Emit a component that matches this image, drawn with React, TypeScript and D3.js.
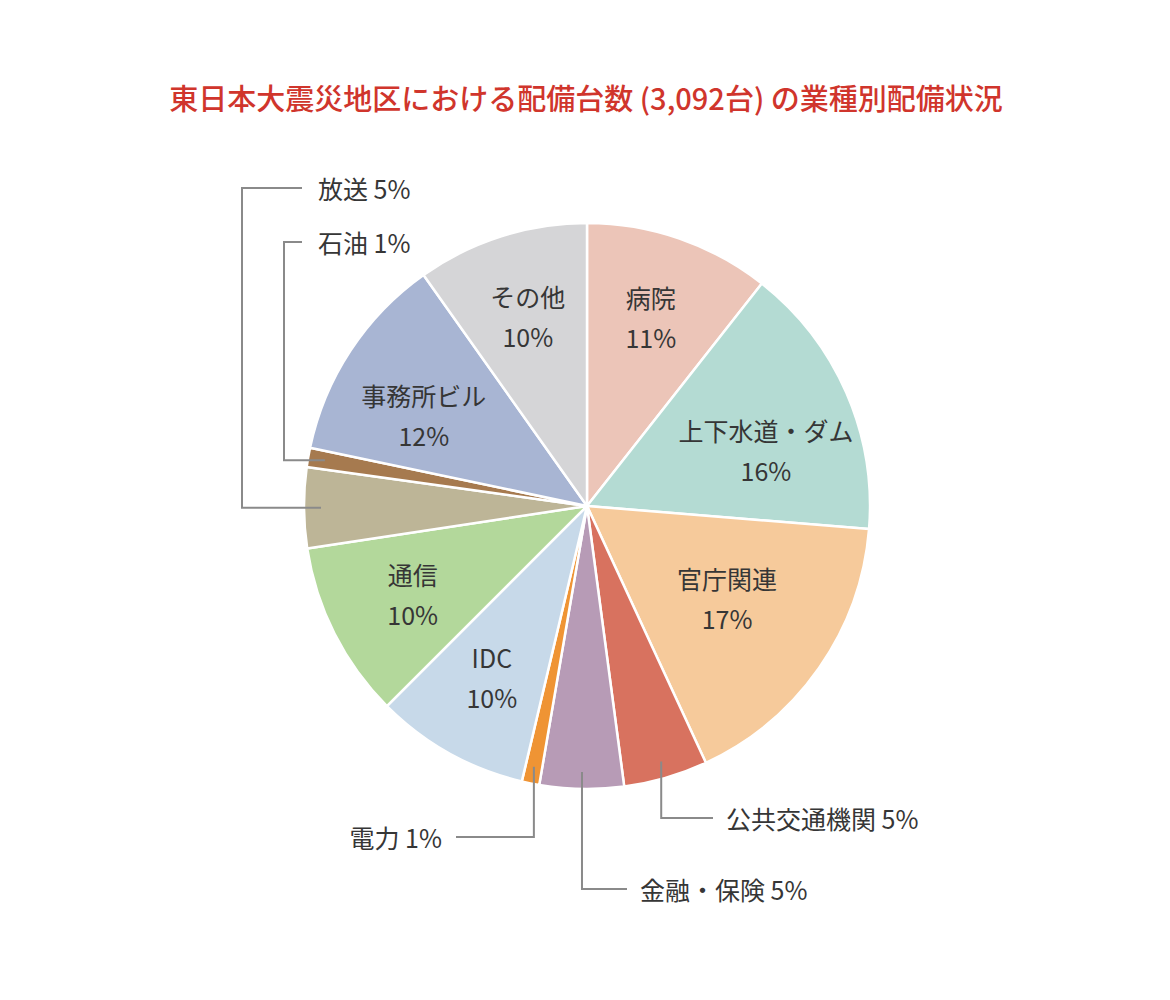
import { useEffect, useRef } from 'react'
import * as d3 from 'd3'

// shares (percent, clockwise from 12 o'clock)
const categories = ['病院', '上下水道・ダム', '官庁関連', '公共交通機関', '金融・保険', '電力', 'IDC', '通信', '放送', '石油', '事務所ビル', 'その他']
const shares = [10.6, 15.7, 16.8, 4.8, 4.8, 1.0, 8.8, 10.1, 4.6, 1.1, 11.9, 9.8]
const shownPct = ['11%', '16%', '17%', '5%', '5%', '1%', '10%', '10%', '5%', '1%', '12%', '10%']
const colors = ['#ecc5b8', '#b4dbd3', '#f6ca9b', '#d8725f', '#b79bb6', '#ef9434', '#c7d9e9', '#b3d89b', '#bdb597', '#a67a4f', '#a8b5d3', '#d5d5d7']

// slices whose label sits outside, with a leader line (label anchor + elbow x)
const outside: Record<string, { lx: number; ly: number; elbow: number; anchor: 'start' | 'end'; vertical: 'up' | 'down' }> = {
    '放送': { lx: 318, ly: 188, elbow: 242, anchor: 'start', vertical: 'up' },
    '石油': { lx: 318, ly: 242, elbow: 284, anchor: 'start', vertical: 'up' },
    '電力': { lx: 442, ly: 837, elbow: 0, anchor: 'end', vertical: 'down' },
    '金融・保険': { lx: 640, ly: 889, elbow: 0, anchor: 'start', vertical: 'down' },
    '公共交通機関': { lx: 726, ly: 818, elbow: 0, anchor: 'start', vertical: 'down' },
}

// small manual nudges of inside labels (like dragged Excel labels)
const labelNudge: Record<string, [number, number]> = {
    '上下水道・ダム': [0, 22],
    '事務所ビル': [0, 16],
    '官庁関連': [-20, -20],
    'その他': [0, -4],
    '病院': [0, -4],
}

const title = '東日本大震災地区における配備台数 (3,092台) の業種別配備状況'

export default function App() {
    const svgRef = useRef<SVGSVGElement>(null)

    useEffect(() => {
        if (!svgRef.current) return
        const svg = d3.select(svgRef.current)
        svg.selectAll('*').remove()

        const width = 1170
        const height = 1000
        const cx = 587
        const cy = 506
        const radius = 283
        const font = '"Noto Sans CJK JP", "Noto Sans", sans-serif'
        const textColor = '#363636'

        svg.attr('width', width).attr('height', height)

        // title
        svg.append('text')
            .attr('x', 586)
            .attr('y', 97)
            .attr('text-anchor', 'middle')
            .attr('dominant-baseline', 'central')
            .style('font-family', font)
            .style('font-size', '29px')
            .style('font-weight', 500)
            .style('fill', '#d0352c')
            .text(title)

        const data = categories.map((c, i) => ({ name: c, value: shares[i], pct: shownPct[i], color: colors[i] }))

        const pie = d3.pie<typeof data[number]>()
            .value(d => d.value)
            .sort(null)

        const arcs = pie(data)
        const arc = d3.arc<d3.PieArcDatum<typeof data[number]>>()
            .innerRadius(0)
            .outerRadius(radius)
        const labelArc = d3.arc<d3.PieArcDatum<typeof data[number]>>()
            .innerRadius(radius * 0.69)
            .outerRadius(radius * 0.69)
        const edgeArc = d3.arc<d3.PieArcDatum<typeof data[number]>>()
            .innerRadius(radius * 0.94)
            .outerRadius(radius * 0.94)

        const g = svg.append('g').attr('transform', `translate(${cx},${cy})`)

        g.selectAll('path.slice')
            .data(arcs)
            .enter()
            .append('path')
            .attr('class', 'slice')
            .attr('d', arc)
            .attr('fill', d => d.data.color)
            .attr('stroke', '#ffffff')
            .attr('stroke-width', 2.5)
            .attr('stroke-linejoin', 'round')

        // inside labels
        const inner = arcs.filter(d => !outside[d.data.name])
        const lab = g.selectAll('g.lab')
            .data(inner)
            .enter()
            .append('g')
            .attr('class', 'lab')
            .attr('transform', d => {
                const [x, y] = labelArc.centroid(d)
                const [nx, ny] = labelNudge[d.data.name] || [0, 0]
                return `translate(${x + nx},${y + ny})`
            })
        lab.append('text')
            .attr('y', -20)
            .attr('text-anchor', 'middle')
            .attr('dominant-baseline', 'central')
            .style('font-family', font)
            .style('font-size', '25px')
            .style('fill', textColor)
            .text(d => d.data.name)
        lab.append('text')
            .attr('y', 20)
            .attr('text-anchor', 'middle')
            .attr('dominant-baseline', 'central')
            .style('font-family', font)
            .style('font-size', '25px')
            .style('fill', textColor)
            .text(d => d.data.pct)

        // outside labels with leader lines
        arcs.filter(d => outside[d.data.name]).forEach(d => {
            const o = outside[d.data.name]
            const [px, py] = edgeArc.centroid(d).map((v, i) => v + (i === 0 ? cx : cy))
            let pts: [number, number][]
            if (o.vertical === 'up') {
                pts = [[px, py], [o.elbow, py], [o.elbow, o.ly], [o.lx - 16, o.ly]]
            } else {
                const ex = o.anchor === 'end' ? o.lx + 14 : o.lx - 13
                pts = [[px, py], [px, o.ly], [ex, o.ly]]
            }
            svg.append('path')
                .attr('d', d3.line()(pts))
                .attr('fill', 'none')
                .attr('stroke', '#8a8a8a')
                .attr('stroke-width', 2)
            svg.append('text')
                .attr('x', o.lx)
                .attr('y', o.ly)
                .attr('text-anchor', o.anchor)
                .attr('dominant-baseline', 'central')
                .style('font-family', font)
                .style('font-size', '25px')
                .style('fill', textColor)
                .text(`${d.data.name} ${d.data.pct}`)
        })
    }, [])

    return (
        <div style={{ position: 'absolute', left: 0, top: 0, background: '#ffffff' }}>
            <svg ref={svgRef} style={{ display: 'block' }}></svg>
        </div>
    )
}
